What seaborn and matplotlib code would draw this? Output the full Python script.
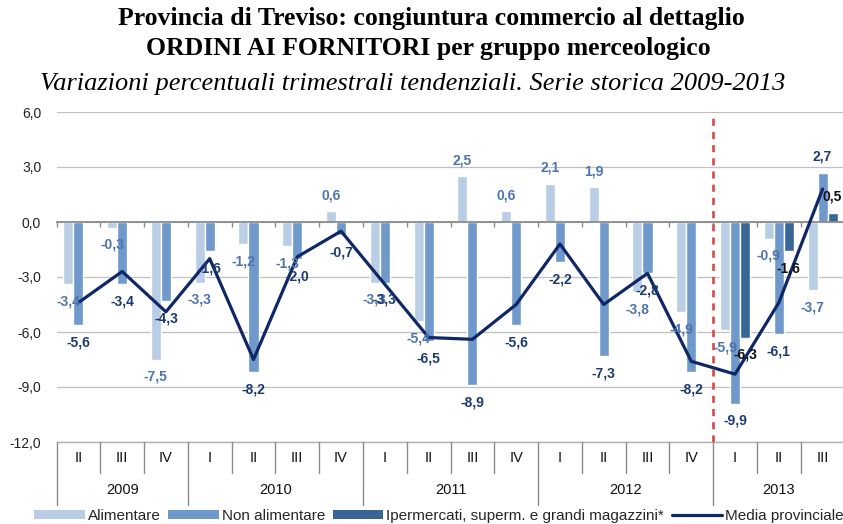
import numpy as np
import pandas as pd
import matplotlib
matplotlib.use("Agg")
import matplotlib.pyplot as plt
import matplotlib.transforms as mtransforms
from matplotlib.patches import Patch
from matplotlib.lines import Line2D
import seaborn as sns

# ---------------- data ----------------
years = ["2009", "2010", "2011", "2012", "2013"]
quarters = ["II", "III", "IV",
            "I", "II", "III", "IV",
            "I", "II", "III", "IV",
            "I", "II", "III", "IV",
            "I", "II", "III"]
year_of_q = ["2009"] * 3 + ["2010"] * 4 + ["2011"] * 4 + ["2012"] * 4 + ["2013"] * 3
alimentare = [-3.4, -0.3, -7.5, -3.3, -1.2, -1.3, 0.6, -3.3, -5.4, 2.5, 0.6,
              2.1, 1.9, -3.8, -4.9, -5.9, -0.9, -3.7]
non_alimentare = [-5.6, -3.4, -4.3, -1.6, -8.2, -2.0, -0.7, -3.3, -6.5, -8.9, -5.6,
                  -2.2, -7.3, -2.8, -8.2, -9.9, -6.1, 2.7]
ipermercati = [np.nan] * 15 + [-6.3, -1.6, 0.5]
media = [-4.4, -2.7, -4.9, -2.0, -7.5, -1.9, -0.5, -3.4, -6.3, -6.4, -4.5,
         -1.2, -4.5, -2.8, -7.6, -8.3, -4.4, 1.8]
series_names = ["Alimentare", "Non alimentare",
                "Ipermercati, superm. e grandi magazzini*"]
media_name = "Media provinciale"
yticks = [-12, -9, -6, -3, 0, 3, 6]

# ---------------- styles ----------------
col_alim = "#b9cde5"
col_nonal = "#6f98cb"
col_iper = "#3a6599"
col_media = "#0f2766"
lab_colors = ["#4f74ad", "#1c3a73", "#111111"]
sans = ["Liberation Sans", "DejaVu Sans"]
narrow = ["Liberation Sans Narrow", "Liberation Sans", "DejaVu Sans"]
serif = ["Liberation Serif", "DejaVu Serif"]

sns.set_theme(style="white")
plt.rcParams["font.family"] = sans

keys = [f"{y} {q}" for y, q in zip(year_of_q, quarters)]
rows = []
for name, vals in zip(series_names, [alimentare, non_alimentare, ipermercati]):
    for k, v in zip(keys, vals):
        if not np.isnan(v):
            rows.append({"periodo": k, "serie": name, "valore": v})
df = pd.DataFrame(rows)

W, H = 843, 524
fig = plt.figure(figsize=(W / 100, H / 100), dpi=100)
ax = fig.add_axes([56.5 / W, 1 - 442 / H, 788 / W, 330 / H])

sns.barplot(data=df, x="periodo", y="valore", hue="serie", order=keys,
            hue_order=series_names, palette=[col_alim, col_nonal, col_iper],
            width=0.69, saturation=1, errorbar=None, legend=False, ax=ax,
            zorder=2)

sns.lineplot(x=np.arange(len(keys)), y=media, color=col_media, linewidth=2.3,
             ax=ax, zorder=4, sort=False)

ax.set_xlim(-0.5, len(keys) - 0.5)
ax.set_ylim(-12, 6)
ax.set_xlabel("")
ax.set_ylabel("")

# gridlines
ax.set_yticks(yticks)
ax.set_yticklabels([f"{v:.1f}".replace(".", ",") for v in yticks], fontsize=10,
                   color="#222222")
ax.tick_params(axis="y", length=0, pad=11)
ax.yaxis.grid(True, color="#c0c0c0", linewidth=0.9, zorder=0)
ax.set_axisbelow(True)
ax.axhline(-12, color="#b0b0b0", linewidth=1.0, clip_on=False, zorder=1)
for s in ["top", "right", "left"]:
    ax.spines[s].set_visible(False)
ax.spines["bottom"].set_position(("data", 0))
ax.spines["bottom"].set_color("#8a8a8a")
ax.spines["bottom"].set_linewidth(1.3)
ax.spines["bottom"].set_zorder(3)
ax.set_xticks(np.arange(-0.5, len(keys), 1.0))
ax.set_xticklabels([])
ax.tick_params(axis="x", direction="out", length=3.8, width=1.0, color="#8a8a8a",
               bottom=True)

# red dashed separator before 2013
ax.axvline(14.5, color="#d24b4b", linewidth=1.9, linestyle=(0, (2.7, 2.3)),
           zorder=5)

# data labels
for cont, lc in zip(ax.containers, lab_colors):
    for bar in cont:
        h = bar.get_height()
        if np.isnan(h):
            continue
        xc = bar.get_x() + bar.get_width() / 2
        off = 11.5 if h >= 0 else -12.5
        ax.annotate(f"{h:.1f}".replace(".", ","), (xc, h), xytext=(0, off),
                    textcoords="offset points", ha="center", va="center",
                    fontsize=10, fontweight="bold", color=lc, zorder=6,
                    annotation_clip=False)

# bottom category table
tr = mtransforms.blended_transform_factory(ax.transData, ax.transAxes)
n = len(keys)
q_bot, y_bot = -31 / 330, -63 / 330
starts = [i for i in range(n) if i == 0 or year_of_q[i] != year_of_q[i - 1]]
for b in np.arange(-0.5, n, 1.0):
    is_year = (b + 0.5) in starts or b == n - 0.5
    ax.plot([b, b], [0, y_bot if is_year else q_bot], transform=tr,
            color="#8a8a8a", linewidth=1.0, clip_on=False)
for i, q in enumerate(quarters):
    ax.text(i, -16 / 330, q, transform=tr, ha="center", va="center",
            fontsize=10.5, family=narrow, color="#111111")
for j, s in enumerate(starts):
    e = starts[j + 1] if j + 1 < len(starts) else n
    ax.text((s + e - 1) / 2, -48 / 330, year_of_q[s], transform=tr,
            ha="center", va="center", fontsize=10.5, family=narrow,
            color="#111111")

# titles
fig.text(431 / W, 1 - 19 / H, "Provincia di Treviso: congiuntura commercio al dettaglio",
         ha="center", va="center", fontsize=18.5, fontweight="bold", family=serif,
         color="black")
fig.text(428 / W, 1 - 48 / H, "ORDINI AI FORNITORI per gruppo merceologico",
         ha="center", va="center", fontsize=18.5, fontweight="bold", family=serif,
         color="black")
fig.text(413 / W, 1 - 84 / H,
         "Variazioni percentuali trimestrali tendenziali. Serie storica 2009-2013",
         ha="center", va="center", fontsize=19, style="italic", family=serif,
         color="black")

# legend
handles = [Patch(facecolor=col_alim, edgecolor="none"),
           Patch(facecolor=col_nonal, edgecolor="none"),
           Patch(facecolor=col_iper, edgecolor="none"),
           Line2D([0], [0], color=col_media, linewidth=2.3)]
fig.legend(handles, series_names + [media_name], loc="center",
           bbox_to_anchor=(439 / W, 1 - 516 / H), ncol=4, frameon=False,
           handlelength=3.3, handleheight=0.6,
           handletextpad=0.2, columnspacing=0.5, borderpad=0,
           prop={"family": narrow, "size": 11})

fig.savefig("out.png", dpi=100)
